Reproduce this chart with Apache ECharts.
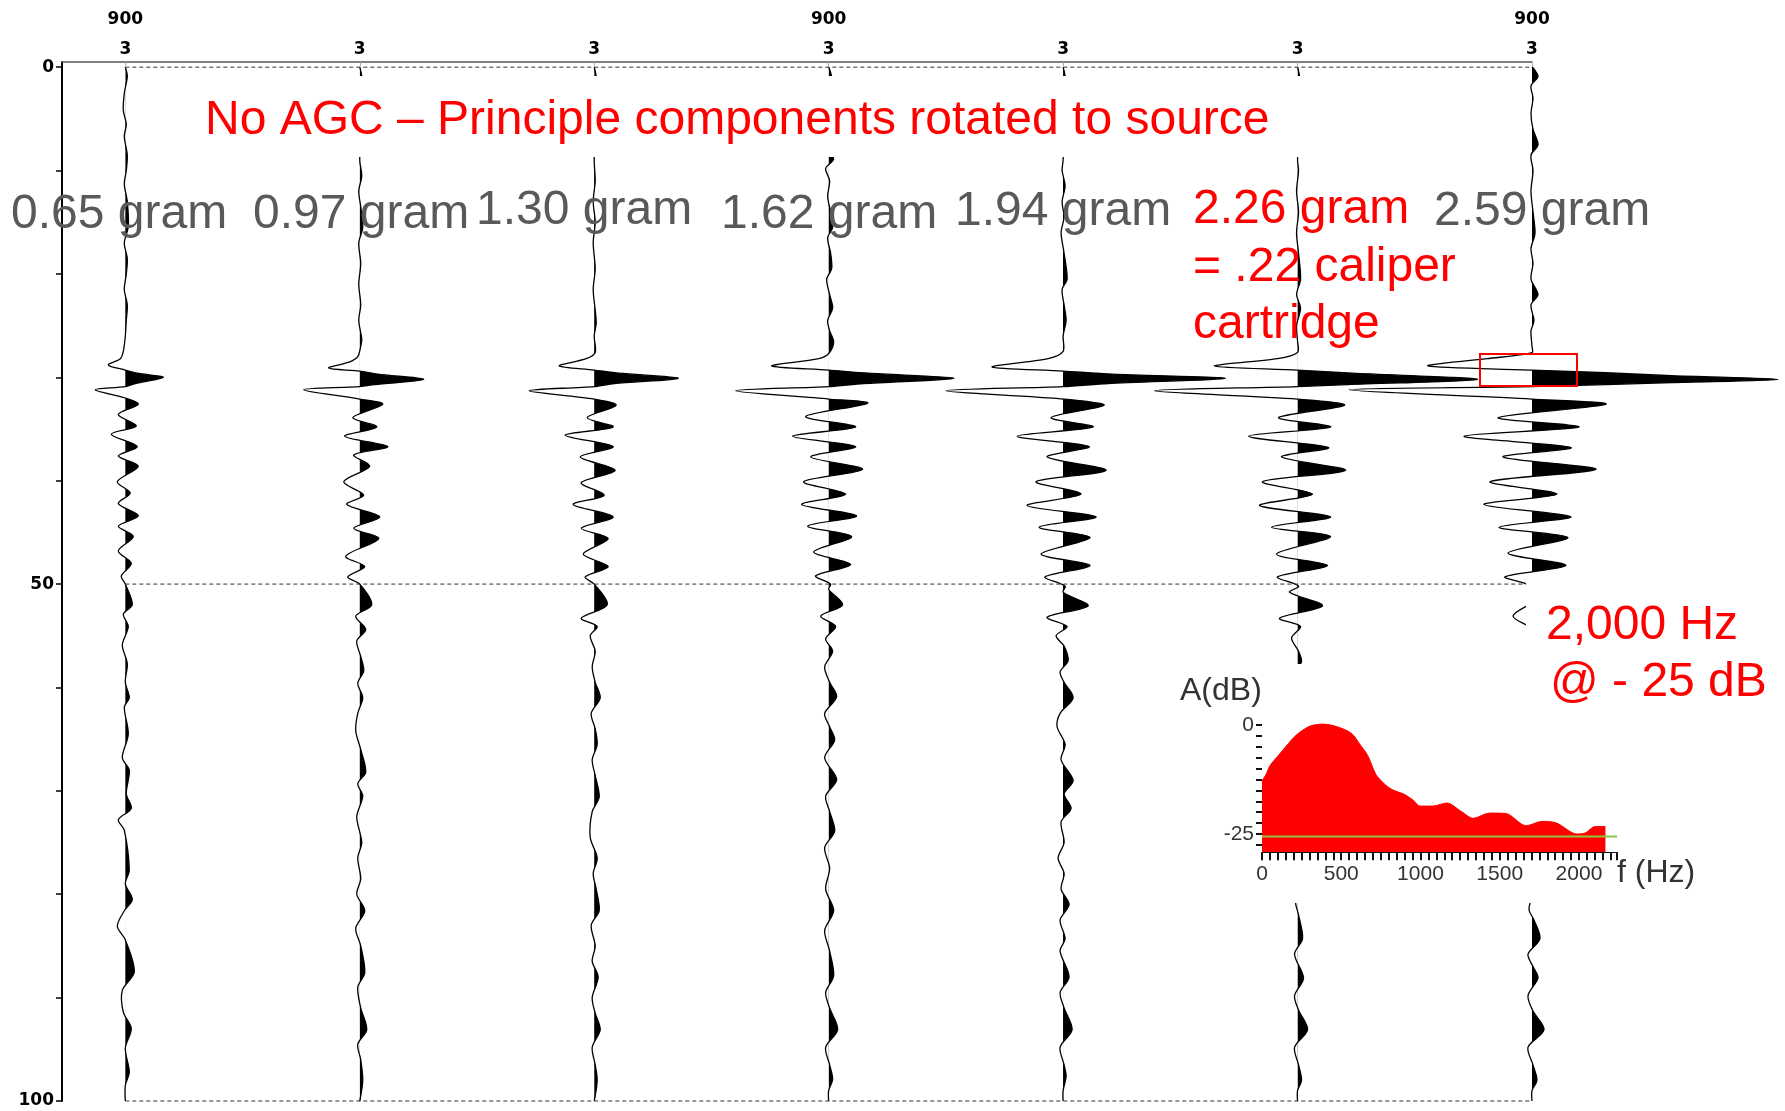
<!DOCTYPE html>
<html lang="en">
<head>
<meta charset="UTF-8">
<title>No AGC - Principle components rotated to source</title>
<script src="https://cdn.jsdelivr.net/npm/echarts@6/dist/echarts.min.js"></script>
<style>
  html, body { margin: 0; padding: 0; background: #fff; }
  #chart { width: 1785px; height: 1111px; }
</style>
</head>
<body>
<div id="chart"></div>
<script>
// top axis labels, one per trace
const traceLabelsTop = ['900', '', '', '900', '', '', '900'];
const traceLabelsBottom = ['3', '3', '3', '3', '3', '3', '3'];

// time axis (ms)
const timeTicks = [0, 10, 20, 30, 40, 50, 60, 70, 80, 90, 100];
const timeLabels = [0, 50, 100];
const dashedTimes = [0, 50, 100];

// charge labels
const gramLabels = ['0.65 gram', '0.97 gram', '1.30 gram', '1.62 gram', '1.94 gram', '2.59 gram'];

// wiggle traces: [time ms, amplitude]
const ampPerTrace = 234.5; // amplitude units per trace spacing
const trace1 = [[0,0],[0.9,2],[2.5,-1],[4.2,-2],[5.5,1],[6.7,-1],[8.5,2],[10,1],[11.3,-1],[13,2],[15.4,3],[17,-1],[18.5,2],[20,1],[21.5,-1],[23,2],[24.5,1],[26,0],[27.5,-2],[28.2,-5],[28.8,-17],[29.3,0],[29.6,12],[30.0,38],[30.6,10],[30.9,0],[31.2,-30],[32.0,0],[32.6,13],[33.6,-7],[34.7,11],[35.5,-14],[36.7,12],[37.6,-7],[38.6,13],[40.1,-8],[41.2,5],[42.2,-7],[43.4,13],[44.4,-7],[45.4,8],[46.8,-7],[48.0,6],[49.2,-4],[50.0,0],[52.0,7],[52.9,-2],[54.1,3],[55.9,-3],[57.7,2],[59.5,0],[61.0,4],[61.9,-1],[64.5,3],[66.8,-3],[68.0,4],[70.3,1],[71.7,6],[72.8,-7],[73.8,-1],[77.7,4],[79,0],[80.5,7],[81.6,-1],[83.1,-8],[84.4,0],[87.5,9],[89.3,-3],[91.4,-2],[93.0,6],[94.9,0],[97.2,4],[98.5,0],[100,0]];
const trace2 = [[0,0],[1,2],[9,0],[10.5,2],[12,-1],[13.5,1],[15.5,3],[17,-1],[19,1],[21,-1],[23,1],[24.5,-1],[26.3,2],[27,1],[28.0,-2],[28.5,-10],[29.1,-31],[29.4,0],[29.7,18],[30.2,64],[30.7,15],[30.9,0],[31.2,-56],[32.1,0],[32.6,23],[33.9,-7],[34.8,17],[35.7,-15],[36.7,28],[37.5,-6],[38.6,10],[40.1,-16],[41.4,4],[42.3,-13],[43.5,20],[44.6,-6],[45.6,19],[47.3,-14],[48.3,5],[49.3,-12],[50.0,0],[52.0,12],[53.1,-4],[54.4,6],[55.5,-3],[57,1],[58.4,4],[59.6,-2],[61,3],[62.5,-2],[64.2,-4],[66,1],[68.2,6],[69.3,-2],[70.5,3],[72.5,-3],[75,2],[76.5,-2],[78.5,1],[80,-3],[81.6,5],[83.3,-4],[85,1],[87.6,5],[89,-2],[91,1],[93.1,7],[94.5,-2],[96,1],[98,3],[100,0]];
const trace3 = [[0,0],[1,2],[9,0],[11,1],[13,-1],[15,1],[17,-1],[19.5,1],[21.5,-1],[23.5,1],[24.8,2],[26,0],[27.6,1],[28.2,-8],[28.9,-35],[29.3,0],[29.6,25],[30.1,84],[30.6,20],[30.9,0],[31.3,-65],[32.1,0],[32.7,22],[33.9,-7],[34.8,19],[35.6,-29],[36.7,19],[37.7,-14],[39.0,21],[40.2,-13],[41.4,10],[42.3,-21],[43.5,19],[44.6,-13],[45.6,14],[47.1,-11],[48.3,14],[49.3,-9],[50.0,0],[52.0,13],[53.3,-13],[54.1,3],[55.0,-4],[56.5,1],[58,-2],[59.5,1],[61.0,6],[62.5,-3],[64,1],[65.5,3],[67,-2],[68.5,1],[70.6,5],[72,-2],[74.5,-4],[76.5,3],[78,-1],[79.5,2],[81.6,5],[83,-3],[85,1],[86.5,-2],[88,4],[90,-2],[91.5,1],[93.1,6],[94.8,-2],[96.5,1],[98,3],[100,0]];
const trace4 = [[0,0],[1,3],[8,1],[8.9,5],[9.8,-3],[11,1],[12.5,-1],[14,2],[15.5,4],[16.5,-1],[18,2],[19.5,3],[20.5,-2],[22,1],[23.3,4],[24.5,-1],[25.5,1],[26.6,5],[27.7,0],[28.2,-10],[28.9,-57],[29.3,0],[29.6,40],[30.1,125],[30.6,35],[30.9,0],[31.3,-93],[32.1,0],[32.5,39],[33.8,-23],[34.8,27],[35.7,-36],[36.7,27],[37.7,-18],[38.9,34],[40.1,-25],[41.3,17],[42.3,-27],[43.4,28],[44.4,-21],[45.4,23],[46.9,-15],[48.1,22],[49.2,-13],[50.0,2],[50.5,0],[52.0,14],[53.1,-8],[54.1,7],[55.3,-3],[56.5,4],[58,-4],[59.5,1],[60.9,8],[62.5,-4],[63.8,1],[65.1,6],[66.8,-4],[68.9,8],[70.5,-3],[72,1],[73.9,6],[75.5,-4],[77.5,1],[79.5,-3],[81.6,5],[83.5,-4],[85.5,1],[87.9,5],[89.5,-3],[91,1],[93.1,9],[94.8,-3],[96.5,1],[97.9,4],[99,0],[100,0]];
const trace5 = [[0,0],[1,2],[9,0],[10,-1],[11.5,2],[13,-1],[14.5,1],[16,-2],[18,1],[20.5,4],[21.5,-1],[23,1],[24.5,3],[26,0],[27.5,0],[28.2,-15],[29.0,-71],[29.4,0],[29.7,50],[30.1,162],[30.6,45],[30.9,0],[31.3,-117],[32.1,0],[32.7,41],[33.9,-12],[34.8,30],[35.7,-46],[36.7,26],[37.7,-16],[39.0,43],[40.1,-27],[41.3,18],[42.4,-36],[43.5,33],[44.5,-24],[45.5,27],[47.1,-22],[48.2,27],[49.3,-18],[50.2,2],[50.8,0],[52.1,25],[53.2,-16],[54.1,4],[55.0,-7],[56,1],[57.4,5],[58.5,-3],[59.5,1],[61.0,10],[62.5,-3],[63.8,-6],[65.5,2],[67,-2],[69.0,10],[70.3,1],[71.7,8],[73,-2],[75,1],[76.5,-5],[78,1],[79.5,-2],[81.0,6],[82.5,-3],[84.3,2],[85.5,-3],[88.0,6],[89.5,-3],[91,1],[93.1,9],[94.8,-3],[96.5,1],[97.6,3],[99,0],[100,0]];
const trace6 = [[0,0],[1,2],[9,0],[10,1],[12,-1],[14,1],[16,-1],[18,1],[20.5,3],[22,-1],[23.3,3],[25,-1],[26.5,0],[27.6,0],[28.2,-20],[28.9,-83],[29.3,0],[29.6,55],[30.2,180],[30.7,50],[30.9,0],[31.3,-143],[32.1,0],[32.7,47],[33.9,-19],[34.8,33],[35.7,-49],[36.8,31],[37.7,-16],[39.0,48],[40.1,-35],[41.3,15],[42.4,-38],[43.5,33],[44.5,-26],[45.4,33],[47.1,-21],[48.2,30],[49.3,-20],[50.2,1],[50.8,-8],[52.1,25],[53.3,-18],[54.1,3],[55.2,-6],[56.5,1],[57.5,4],[58.5,-2],[60,0],[79,0],[80.8,-2],[82,1],[84.3,5],[85.8,-3],[88.1,6],[89.8,-3],[91.2,1],[93.1,10],[94.8,-3],[96.5,1],[98,4],[99,0],[100,0]];
const trace7 = [[0,0],[0.9,6],[1.8,-1],[3,1],[4.5,-1],[6,1],[7.5,6],[8.5,-1],[10,1],[12,-1],[14,1],[16.1,3],[17.5,-1],[19,1],[20.5,-1],[22,6],[23,-1],[24.5,2],[25.5,-1],[27,0],[27.6,0],[28.2,-45],[28.9,-104],[29.3,0],[29.55,74],[29.85,140],[30.2,246],[30.5,140],[30.7,74],[30.9,0],[31.2,-183],[32.1,0],[32.6,74],[33.9,-34],[34.8,47],[35.7,-68],[36.8,39],[37.7,-29],[38.9,64],[40.1,-42],[41.3,25],[42.3,-48],[43.5,39],[44.5,-33],[45.5,36],[47.0,-24],[48.2,34],[49.3,-27],[50.2,0],[51.5,3],[53.1,-19],[54.5,2],[56,-3],[57.5,0],[80,0],[81.5,-3],[82.5,2],[84.3,8],[85.8,-4],[87,1],[88.1,6],[89.8,-4],[91.3,1],[93.1,12],[94.8,-4],[96.5,1],[98,5],[99,0],[100,0]];
const traces = [trace1, trace2, trace3, trace4, trace5, trace6, trace7];

// amplitude spectrum inset
const specHz = [0, 26, 51, 103, 154, 205, 256, 308, 385, 474, 564, 615, 667, 718, 769, 820, 897, 949, 1000, 1077, 1167, 1256, 1333, 1436, 1538, 1667, 1769, 1859, 1987, 2038, 2103, 2167];
const specDb = [-12.8, -11.3, -9.3, -7.0, -4.8, -2.7, -1.2, -0.2, 0.2, -0.4, -1.9, -4.3, -7.0, -11.3, -13.4, -14.8, -15.9, -17.1, -18.6, -18.6, -17.9, -19.8, -21.4, -20.2, -20.3, -23.1, -22.1, -22.5, -25.0, -24.8, -23.3, -23.3];
const cutoffDb = -25.6;
const cutoffHz = [0, 2240];
const freqLabels = [0, 500, 1000, 1500, 2000];
const dbTicks = [0, -2.5, -5, -7.5, -10, -12.5, -15, -17.5, -20, -22.5, -25, -27.5];
const dbLabels = [0, -25];

const wiggleSmooth = 0.3;

// one trace: black fill of the positive side (clipped at the baseline) + the wiggle line
function renderTrace(params, api) {
    const k = api.value(0);
    const s = traces[k - 1];
    const pts = s.map(p => api.coord([k + p[1] / ampPerTrace, p[0]]));
    const x0 = api.coord([k, 0])[0];
    return {
        type: 'group',
        children: [
            {
                type: 'polygon',
                shape: { points: pts, smooth: wiggleSmooth },
                style: { fill: '#000' },
                clipPath: { type: 'rect', shape: { x: x0, y: -2000, width: 4000, height: 6000 } }
            },
            {
                type: 'polyline',
                shape: { points: pts, smooth: wiggleSmooth },
                style: { stroke: '#000', lineWidth: 1.3, fill: null }
            }
        ]
    };
}

const chart = echarts.init(document.getElementById('chart'));

const redFont = '48px "Liberation Sans", Arial, sans-serif';
const insetFont = '32px "Liberation Sans", Arial, sans-serif';
function txt(text, x, y, fill, font) {
    return {
        type: 'text', x: x, y: y, z: 40,
        style: { text: text, fill: fill, font: font || redFont,
                 align: 'left', verticalAlign: 'middle',
                 textAlign: 'left', textVerticalAlign: 'middle' }
    };
}

const gramX = [11, 253, 476, 721, 955, 1434];
const gramY = [215, 215, 211, 215, 212, 212];
const graphics = [
    // white boxes behind the pasted annotations
    { type: 'rect', z: 10, shape: { x: 190, y: 76, width: 1140, height: 81 }, style: { fill: '#fff' } },
    { type: 'rect', z: 10, shape: { x: 1526, y: 580, width: 259, height: 90 }, style: { fill: '#fff' } },
    { type: 'rect', z: 10, shape: { x: 1170, y: 664, width: 615, height: 239 }, style: { fill: '#fff' } },
    txt('No AGC \u2013 Principle components rotated to source', 205, 121, '#ff0000'),
    txt('2.26 gram', 1193, 210, '#ff0000'),
    txt('= .22 caliper', 1193, 268, '#ff0000'),
    txt('cartridge', 1193, 325, '#ff0000'),
    txt('2,000 Hz', 1546, 626, '#ff0000'),
    txt('@ - 25 dB', 1550, 683, '#ff0000'),
    txt('A(dB)', 1180, 691, '#333', insetFont),
    txt('f (Hz)', 1617, 873, '#333', insetFont),
    { type: 'rect', z: 40, shape: { x: 1480, y: 354, width: 97, height: 32 },
      style: { fill: null, stroke: '#ff0000', lineWidth: 2 } }
];
gramLabels.forEach((g, i) => graphics.push(txt(g, gramX[i], gramY[i], '#595959')));

const axisFont = { fontFamily: '"DejaVu Sans", Verdana, sans-serif', fontWeight: 'bold', fontSize: 17, color: '#000' };
const insetAxisFont = { color: '#333', fontSize: 21, fontFamily: '"Liberation Sans", Arial, sans-serif' };

chart.setOption({
    backgroundColor: '#fff',
    animation: false,
    grid: [
        { left: 62, top: 62, width: 1470, height: 1039, outerBoundsMode: 'none', containLabel: false },
        { left: 1262, top: 722.8, width: 355, height: 129.5, outerBoundsMode: 'none', containLabel: false }
    ],
    xAxis: [
        {
            gridIndex: 0, type: 'value', position: 'top', min: 0.73, max: 7,
            axisLine: { show: true, onZero: false, lineStyle: { color: '#555', width: 1.5 } },
            axisTick: { show: true, inside: true, length: 4, customValues: [1, 2, 3, 4, 5, 6, 7], lineStyle: { color: '#aaa' } },
            axisLabel: Object.assign({
                customValues: [1, 2, 3, 4, 5, 6, 7], margin: -3, lineHeight: 30,
                formatter: v => {
                    const i = Math.round(v) - 1;
                    return traceLabelsTop[i] ? traceLabelsTop[i] + '\n' + traceLabelsBottom[i] : traceLabelsBottom[i];
                }
            }, axisFont),
            splitLine: { show: false }
        },
        {
            gridIndex: 1, type: 'value', min: 0, max: 2240, interval: 50, z: 20,
            axisLine: { show: true, onZero: false, lineStyle: { color: '#111', width: 1 } },
            axisTick: { show: true, length: 8, lineStyle: { color: '#111', width: 2 } },
            axisLabel: Object.assign({
                margin: 11,
                formatter: v => freqLabels.indexOf(v) >= 0 ? String(v) : ''
            }, insetAxisFont),
            splitLine: { show: false }
        }
    ],
    yAxis: [
        {
            gridIndex: 0, type: 'value', inverse: true, min: -0.5, max: 100,
            axisLine: { show: true, onZero: false, lineStyle: { color: '#000', width: 2 } },
            axisTick: { show: true, length: 6, customValues: timeTicks, lineStyle: { color: '#000', width: 1.5 } },
            axisLabel: Object.assign({ customValues: timeLabels, margin: 8 }, axisFont),
            splitLine: { show: false }
        },
        {
            gridIndex: 1, type: 'value', min: -29.2, max: 0.5, z: 20,
            axisLine: { show: false, onZero: false },
            axisTick: { show: true, length: 6, customValues: dbTicks, lineStyle: { color: '#111', width: 2 } },
            axisLabel: Object.assign({ customValues: dbLabels, margin: 8 }, insetAxisFont),
            splitLine: { show: false }
        }
    ],
    graphic: graphics,
    series: [
        {
            type: 'custom', coordinateSystem: 'cartesian2d', xAxisIndex: 0, yAxisIndex: 0,
            data: traces.map((_, i) => [i + 1, 50]), encode: { x: 0, y: 1 },
            renderItem: renderTrace, clip: false, silent: true, z: 2
        }
    ].concat(dashedTimes.map(t => ({
        type: 'line', xAxisIndex: 0, yAxisIndex: 0, data: [[1, t], [7, t]],
        symbol: 'none', clip: false, silent: true, z: 3,
        lineStyle: { color: '#333', width: 1, type: [4, 3] }
    }))).concat([
        {
            type: 'line', xAxisIndex: 1, yAxisIndex: 1, z: 15, silent: true,
            data: specHz.map((f, i) => [f, specDb[i]]),
            symbol: 'none', smooth: 0.3,
            lineStyle: { color: '#ff0000', width: 1 },
            areaStyle: { color: '#ff0000', opacity: 1, origin: 'start' }
        },
        {
            type: 'line', xAxisIndex: 1, yAxisIndex: 1, z: 16, silent: true,
            data: cutoffHz.map(f => [f, cutoffDb]),
            symbol: 'none', lineStyle: { color: '#8cc63f', width: 2 }
        }
    ])
});
</script>
</body>
</html>
